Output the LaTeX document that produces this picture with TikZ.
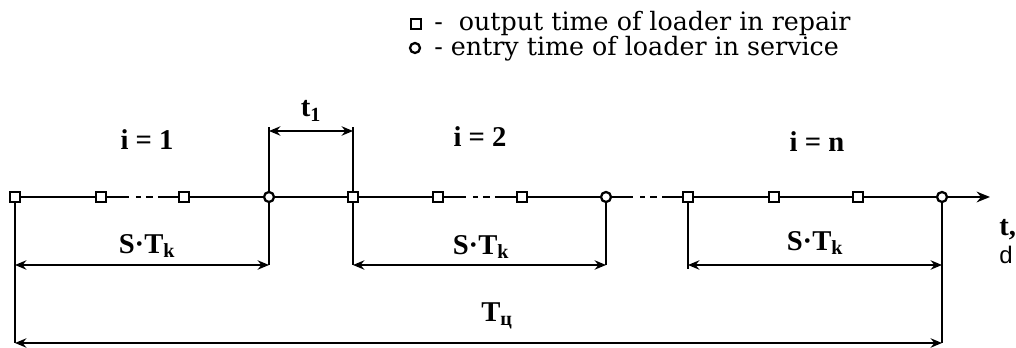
\documentclass[tikz,border=0pt]{standalone}
\usepackage{fontspec}
\setmainfont{Liberation Serif}
\newfontfamily\legendfont{DejaVu Serif}
\newfontfamily\unitfont{Liberation Sans}
\usepackage{tikz}
\usetikzlibrary{arrows.meta,positioning}
\tikzset{
  repairmark/.style={draw, rectangle, fill=white, line width=1.7pt, minimum size=8pt, inner sep=0pt},
  servicemark/.style={draw, circle, fill=white, line width=1.7pt, minimum size=7.5pt, inner sep=0pt},
  axisline/.style={line width=2.1pt},
  brokenline/.style={axisline, dash pattern=on 16pt off 5.25pt on 3.75pt off 3.75pt on 5.25pt off 3.75pt on 40pt},
  extline/.style={line width=1.5pt},
  dimarrow/.style={line width=1.9pt, {Stealth[length=8.5pt,width=7pt]}-{Stealth[length=8.5pt,width=7pt]}},
  lbl/.style={font=\fontsize{21.5}{25}\selectfont\bfseries, inner sep=0pt},
  keytext/.style={anchor=west, inner sep=0pt, font=\legendfont\fontsize{19}{22}\selectfont},
}

\begin{document}
\begin{tikzpicture}[x=0.75pt, y=-0.75pt]
    \useasboundingbox (0,0) rectangle (1016,348);
    % legend
    \node[repairmark] (keyrepair) at (416,24) {};
    \node[servicemark] (keyservice) at (415,48) {};
    \node[keytext] (keyrepairtxt) at (434,24) {-~~output time of loader in repair};
    \node[keytext] (keyservicetxt) at (434,49) {- entry time of loader in service};
    % marks on the time axis
    \node[repairmark] (r1) at (15,197) {};
    \node[repairmark] (r2) at (101,197) {};
    \node[repairmark] (r3) at (184,197) {};
    \node[servicemark] (c1) at (269,197) {};
    \node[repairmark] (r4) at (353,197) {};
    \node[repairmark] (r5) at (438,197) {};
    \node[repairmark] (r6) at (522,197) {};
    \node[servicemark] (c2) at (606,197) {};
    \node[repairmark] (r7) at (688,197) {};
    \node[repairmark] (r8) at (774,197) {};
    \node[repairmark] (r9) at (858,197) {};
    \node[servicemark] (c3) at (942,197) {};
    \coordinate (tend) at (990,197);
    % levels of the dimension lines
    \coordinate (toplevel) at (0,127);
    \coordinate (t1level) at (0,131);
    \coordinate (stlevel) at (0,265);
    \coordinate (tclevel) at (0,343);
    % time axis
    \draw[axisline] (r1) -- (r2);
    \draw[brokenline] (r2) -- (r3);
    \draw[axisline] (r3) -- (c1);
    \draw[axisline] (c1) -- (r4);
    \draw[axisline] (r4) -- (r5);
    \draw[brokenline] (r5) -- (r6);
    \draw[axisline] (r6) -- (c2);
    \draw[brokenline] (c2) -- (r7);
    \draw[axisline] (r7) -- (r8);
    \draw[axisline] (r8) -- (r9);
    \draw[axisline] (r9) -- (c3);
    \draw[axisline, -{Stealth[length=10pt,width=8pt]}] (c3) -- (tend);
    % extension lines
    \draw[extline] (r1) -- (r1 |- tclevel);
    \draw[extline] (c1) -- (c1 |- toplevel);
    \draw[extline] (c1) -- (c1 |- stlevel);
    \draw[extline] (r4) -- (r4 |- toplevel);
    \draw[extline] (r4) -- (r4 |- stlevel);
    \draw[extline] (c2) -- (c2 |- stlevel);
    \draw[extline] (r7) -- ([yshift=-3pt]r7 |- stlevel);
    \draw[extline] (c3) -- (c3 |- tclevel);
    % dimension arrows
    \draw[dimarrow] (c1 |- t1level) -- (r4 |- t1level);
    \draw[dimarrow] (r1 |- stlevel) -- (c1 |- stlevel);
    \draw[dimarrow] (r4 |- stlevel) -- (c2 |- stlevel);
    \draw[dimarrow] (r7 |- stlevel) -- (c3 |- stlevel);
    \draw[dimarrow] (r1 |- tclevel) -- (c3 |- tclevel);
    % labels
    \node[lbl] (t1lbl) at (311,111) {t\textsubscript{1}};
    \node[lbl] (cyc1) at (147,140) {i = 1};
    \node[lbl] (cyc2) at (480,137) {i = 2};
    \node[lbl] (cycn) at (817,142) {i = n};
    \node[lbl] (st1) at (147,246) {S·T\textsubscript{k}};
    \node[lbl] (st2) at (481,247) {S·T\textsubscript{k}};
    \node[lbl] (st3) at (815,243) {S·T\textsubscript{k}};
    \node[lbl] (tcyc) at (497,316) {T\textsubscript{ц}};
    \node[lbl, anchor=west] (tunit) at (999,230) {t,};
    \node[anchor=west, inner sep=0pt, font=\unitfont\fontsize{18}{20}\selectfont] (dunit) at (999,255) {d};
  \end{tikzpicture}
\end{document}
